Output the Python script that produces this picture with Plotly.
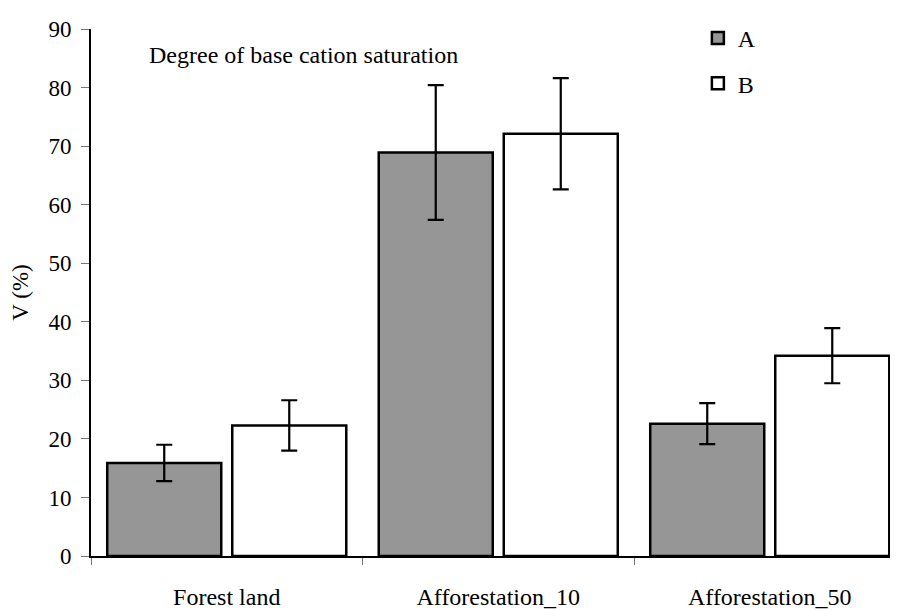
import plotly.graph_objects as go

categories = ["Forest land", "Afforestation_10", "Afforestation_50"]
series_names = ["A", "B"]
values_a = [15.9, 68.9, 22.6]
errors_a = [3.1, 11.5, 3.5]
values_b = [22.3, 72.1, 34.2]
errors_b = [4.3, 9.5, 4.7]
y_ticks = [0, 10, 20, 30, 40, 50, 60, 70, 80, 90]

FONT = "Liberation Serif"

fig = go.Figure()
fig.add_trace(go.Bar(
    name=series_names[0], x=categories, y=values_a, legendgroup="a",
    marker=dict(color="#969696", line=dict(color="black", width=2.5)),
    error_y=dict(type="data", array=errors_a, visible=True, color="black", thickness=2.2, width=8),
))
fig.add_trace(go.Bar(
    name=series_names[1], x=categories, y=values_b, legendgroup="b",
    marker=dict(color="white", line=dict(color="black", width=2.5)),
    error_y=dict(type="data", array=errors_b, visible=True, color="black", thickness=2.2, width=8),
))

# page body has an 8px margin, so the figure starts at (8, 8) on the page
fig.update_layout(
    width=890, height=602,
    margin=dict(l=83, r=0, t=21, b=54),
    paper_bgcolor="white", plot_bgcolor="white",
    font=dict(family=FONT, size=22, color="black"),
    barmode="group", bargap=0.079, bargroupgap=0.088,
    showlegend=True,
    legend=dict(x=0.752, y=1.025, xanchor="left", yanchor="top",
                traceorder="grouped", tracegroupgap=11,
                font=dict(family=FONT, size=24, color="black"),
                bgcolor="rgba(0,0,0,0)"),
    annotations=[dict(
        text="Degree of base cation saturation", xref="paper", yref="paper",
        x=(147 - 91) / 807, y=(556 - 55) / 527, xanchor="left", yanchor="middle",
        showarrow=False, font=dict(family=FONT, size=24, color="black"),
    )],
)

fig.update_xaxes(
    type="category", range=[-0.5, -0.5 + 807 / 271.5], automargin=False,
    showline=True, linecolor="black", linewidth=2,
    ticks="outside", tickson="boundaries", ticklen=7, tickcolor="#777777", tickwidth=1,
    ticklabelstandoff=18,
    tickfont=dict(family=FONT, size=24, color="black"),
    showgrid=False, zeroline=False,
)
fig.update_yaxes(
    range=[0, 90], tickvals=y_ticks, automargin=False,
    showline=True, linecolor="black", linewidth=2,
    ticks="outside", ticklen=8, tickcolor="#777777", tickwidth=1,
    ticklabelstandoff=5,
    tickfont=dict(family=FONT, size=23, color="black"),
    showgrid=False, zeroline=False,
    title=dict(text="V (%)", font=dict(family=FONT, size=23, color="black"), standoff=15),
)

fig.write_html("out.html")
